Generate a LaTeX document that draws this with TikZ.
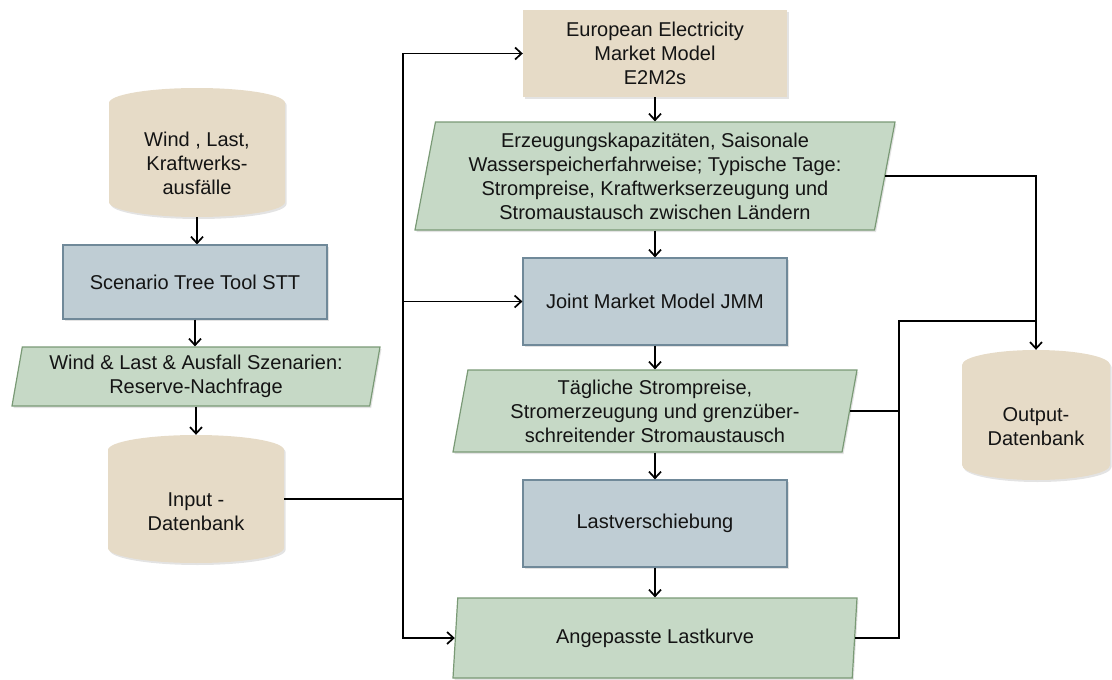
\documentclass[tikz,border=0pt]{standalone}
\usepackage{fontspec}
\setmainfont{Liberation Sans}
\usetikzlibrary{shapes.geometric,arrows.meta,shadows}
\definecolor{tanfill}{RGB}{230,219,199}
\definecolor{bluefill}{RGB}{191,205,212}
\definecolor{blueborder}{RGB}{112,137,153}
\definecolor{greenfill}{RGB}{198,217,198}
\definecolor{greenborder}{RGB}{122,154,118}
\definecolor{txtcol}{RGB}{20,20,20}
\newcommand\mainsz{\fontsize{20}{24}\selectfont}
\begin{document}
\begin{tikzpicture}[x=1pt,y=-1pt,
  ln/.style={line width=1.7pt, draw=black},
  arr/.style={ln, -{Straight Barb[length=6.5pt,width=12pt]}},
  shd/.style={drop shadow={opacity=0.22, shadow xshift=1.5pt, shadow yshift=-2pt}},
  txt/.style={align=center, font=\mainsz, text=txtcol, inner sep=0pt},
  procbox/.style={rectangle, fill=bluefill, draw=blueborder, line width=1.2pt, minimum width=264pt, minimum height=87pt, txt, shd},
  tanbox/.style={rectangle, fill=tanfill, minimum width=264pt, minimum height=87pt, txt, shd},
  datapara/.style={trapezium, trapezium left angle=77, trapezium right angle=103, trapezium stretches body, fill=greenfill, draw=greenborder, line width=1.2pt, txt, inner sep=1pt, shd},
  cylnode/.style={rectangle, inner sep=0pt, minimum width=#1},
  cylfill/.style={fill=tanfill, shd}
]
\path[use as bounding box] (0,0) rectangle (1112,680);

% cylinders (shapes)
\fill[cylfill] (109,103) arc[start angle=180,end angle=0,x radius=88pt,y radius=15pt] -- (285,202) arc[start angle=0,end angle=-180,x radius=88pt,y radius=15pt] -- cycle;
\fill[cylfill] (108,450) arc[start angle=180,end angle=0,x radius=88pt,y radius=15pt] -- (284,548) arc[start angle=0,end angle=-180,x radius=88pt,y radius=15pt] -- cycle;
\fill[cylfill] (962,365) arc[start angle=180,end angle=0,x radius=74pt,y radius=15pt] -- (1110,465) arc[start angle=0,end angle=-180,x radius=74pt,y radius=15pt] -- cycle;

\node[cylnode=176pt, minimum height=129pt] (wind) at (197,152.5) {};
\node[txt] (windtxt) at (197,163.5) {Wind , Last,\\Kraftwerks-\\ausfälle};
\node[cylnode=176pt, minimum height=128pt] (input) at (196,499) {};
\node[txt] (inputtxt) at (196,511.5) {Input -\\Datenbank};
\node[cylnode=148pt, minimum height=130pt] (out) at (1036,415) {};
\node[txt] (outtxt) at (1036,426.5) {Output-\\Datenbank};

% boxes
\node[procbox, minimum height=74pt] (stt) at (195,282) {Scenario Tree Tool STT};
\node[tanbox] (e2m) at (655,53.5) {European Electricity\\Market Model\\E2M2s};
\node[procbox] (jmm) at (655,301.5) {Joint Market Model JMM};
\node[procbox] (last) at (655,523.5) {Lastverschiebung};

% data parallelograms
\node[datapara, minimum width=368pt, minimum height=59pt] (wl) at (196,376.5) {Wind \& Last \& Ausfall Szenarien:\\Reserve-Nachfrage};
\node[datapara, minimum width=480pt, minimum height=108pt] (p1) at (655,176) {Erzeugungskapazitäten, Saisonale\\Wasserspeicherfahrweise; Typische Tage:\\Strompreise, Kraftwerkserzeugung und\\Stromaustausch zwischen Ländern};
\node[datapara, minimum width=404pt, minimum height=82pt] (p2) at (655,411) {Tägliche Strompreise,\\Stromerzeugung und grenzüber-\\schreitender Stromaustausch};
\node[datapara, minimum width=404pt, minimum height=80pt] (p3) at (655,638) {Angepasste Lastkurve};

% left column connectors
\draw[arr] (wind.south) -- (wind.south |- stt.north);
\draw[arr] (stt.south) -- (stt.south |- wl.north);
\draw[arr] (wl.south -| input.north) -- (input.north);

% bus
\coordinate (bus) at (403,499);
\draw[ln] (input.east) -- (bus);
\draw[arr] (bus) |- (e2m.west);
\draw[arr] (bus) |- (jmm.west);
\draw[arr] (bus) |- (p3.left side);

% middle column connectors
\draw[arr] (e2m.south) -- (e2m.south |- p1.north);
\draw[arr] (jmm.north |- p1.south) -- (jmm.north);
\draw[arr] (jmm.south) -- (jmm.south |- p2.north);
\draw[arr] (last.north |- p2.south) -- (last.north);
\draw[arr] (last.south) -- (last.south |- p3.north);

% right side
\coordinate (jt) at (899,321);
\draw[arr] (p1.right side) -| (out.north);
\draw[ln] (p3.right side) -| (jt) -- (jt -| out.north);
\draw[ln] (p2.right side) -- (p2.right side -| jt);
\end{tikzpicture}
\end{document}
